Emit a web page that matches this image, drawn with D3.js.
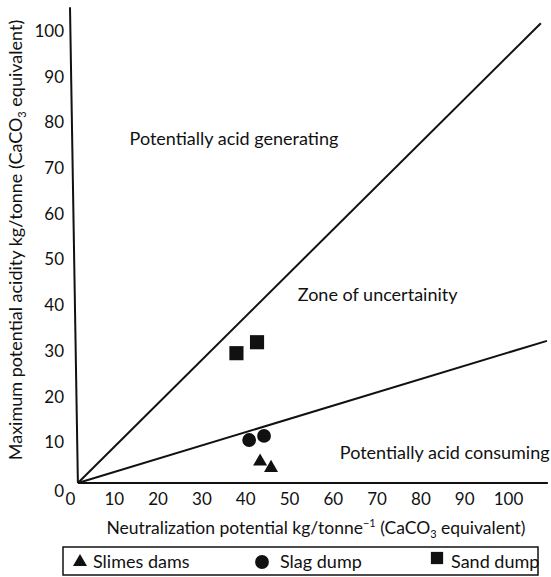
<!DOCTYPE html>
<html>
<head>
<meta charset="utf-8">
<script src="https://cdn.jsdelivr.net/npm/d3@7"></script>
<style>
  html, body { margin: 0; padding: 0; background: #fff; }
  svg { display: block; }
  text { font-family: Lato, "Open Sans", sans-serif; fill: #111; }
</style>
</head>
<body>
<svg id="chart" width="551" height="577"></svg>
<script>
// ---- data ----
const xTicks = [0, 10, 20, 30, 40, 50, 60, 70, 80, 90, 100];
const yTicks = [0, 10, 20, 30, 40, 50, 60, 70, 80, 90, 100];
const slimesDams = [[43.4, 5.8], [45.9, 4.4]];
const slagDump = [[40.9, 10.5], [44.3, 11.4]];
const sandDump = [[38.0, 29.5], [42.7, 31.9]];
const upperBoundary = [[1.8, 1.1], [107.5, 101.7]];
const lowerBoundary = [[1.8, 1.1], [108.9, 32.2]];
const yAxisPath = [[0, 105.2], [1.8, 1.1]];
const xAxisPath = [[1.8, 1.1], [109.1, 1.1]];
const zoneLabels = [
  { text: "Potentially acid generating", x: 13.6, y: 75 },
  { text: "Zone of uncertainity", x: 52, y: 41 },
  { text: "Potentially acid consuming", x: 61.6, y: 6.4 }
];
const legendItems = [
  { name: "Slimes dams", shape: "triangle" },
  { name: "Slag dump", shape: "circle" },
  { name: "Sand dump", shape: "square" }
];

// ---- layout ----
const svg = d3.select("#chart");
const x = d3.scaleLinear().domain([0, 100]).range([70, 508]);
const y = d3.scaleLinear().domain([0, 100]).range([488, 31]);
const fs = 17;
const fsText = 18;

const line = d3.line().x(d => x(d[0])).y(d => y(d[1]));

// axes lines
[yAxisPath, xAxisPath].forEach(p => {
  svg.append("path").attr("d", line(p)).attr("fill", "none")
    .attr("stroke", "#111").attr("stroke-width", 2);
});

// tick labels via d3 axes (no domain, no ticks)
const gy = svg.append("g").attr("transform", "translate(70,0)")
  .call(d3.axisLeft(y).tickValues(yTicks).tickSize(0).tickPadding(6));
gy.select(".domain").remove();
gy.selectAll("text").attr("font-size", fs).attr("font-family", "Lato, sans-serif").attr("fill", "#111");
gy.selectAll(".tick").filter(d => d === 0).select("text").attr("dy", "0.5em");

const gx = svg.append("g").attr("transform", "translate(0,488)")
  .call(d3.axisBottom(x).tickValues(xTicks).tickSize(0).tickPadding(5));
gx.select(".domain").remove();
gx.selectAll("text").attr("font-size", fs).attr("font-family", "Lato, sans-serif").attr("fill", "#111");

// boundary lines
[upperBoundary, lowerBoundary].forEach(p => {
  svg.append("path").attr("d", line(p)).attr("fill", "none")
    .attr("stroke", "#111").attr("stroke-width", 2);
});

// symbols
const sym = {
  triangle: d3.symbol().type(d3.symbolTriangle).size(85),
  circle: d3.symbol().type(d3.symbolCircle).size(150),
  square: d3.symbol().type(d3.symbolSquare).size(200)
};
function drawPts(data, shape) {
  svg.append("g").selectAll("path").data(data).join("path")
    .attr("d", sym[shape]())
    .attr("transform", d => `translate(${x(d[0])},${y(d[1])})`)
    .attr("fill", "#111");
}
drawPts(slimesDams, "triangle");
drawPts(slagDump, "circle");
drawPts(sandDump, "square");

// zone labels
svg.append("g").selectAll("text").data(zoneLabels).join("text")
  .attr("x", d => x(d.x)).attr("y", d => y(d.y))
  .attr("font-size", fsText)
  .text(d => d.text);

// axis titles
const xt = svg.append("text").attr("x", 316).attr("y", 534)
  .attr("text-anchor", "middle").attr("font-size", 17.5);
xt.append("tspan").text("Neutralization potential kg/tonne");
xt.append("tspan").text("\u22121").attr("font-size", 11).attr("dy", -7);
xt.append("tspan").text(" (CaCO").attr("dy", 7);
xt.append("tspan").text("3").attr("font-size", 11).attr("dy", 4);
xt.append("tspan").text(" equivalent)").attr("dy", -4);

const yt = svg.append("text").attr("transform", "translate(22,240) rotate(-90)")
  .attr("text-anchor", "middle").attr("font-size", 18);
yt.append("tspan").text("Maximum potential acidity kg/tonne (CaCO");
yt.append("tspan").text("3").attr("font-size", 11).attr("dy", 4);
yt.append("tspan").text(" equivalent)").attr("dy", -4);

// legend
const lg = svg.append("g");
lg.append("rect").attr("x", 63).attr("y", 547).attr("width", 475).attr("height", 28)
  .attr("fill", "none").attr("stroke", "#111").attr("stroke-width", 1.5);
const legendX = [80, 262, 437];
const legendTextX = [93, 280, 451];
legendItems.forEach((d, i) => {
  const s = d.shape === "triangle" ? d3.symbol().type(d3.symbolTriangle).size(85)
    : d.shape === "circle" ? d3.symbol().type(d3.symbolCircle).size(150)
    : d3.symbol().type(d3.symbolSquare).size(150);
  lg.append("path").attr("d", s()).attr("fill", "#111")
    .attr("transform", `translate(${legendX[i]},${d.shape === "square" ? 558 : 562})`);
  lg.append("text").attr("x", legendTextX[i]).attr("y", 568)
    .attr("font-size", fsText).text(d.name);
});
</script>
</body>
</html>
